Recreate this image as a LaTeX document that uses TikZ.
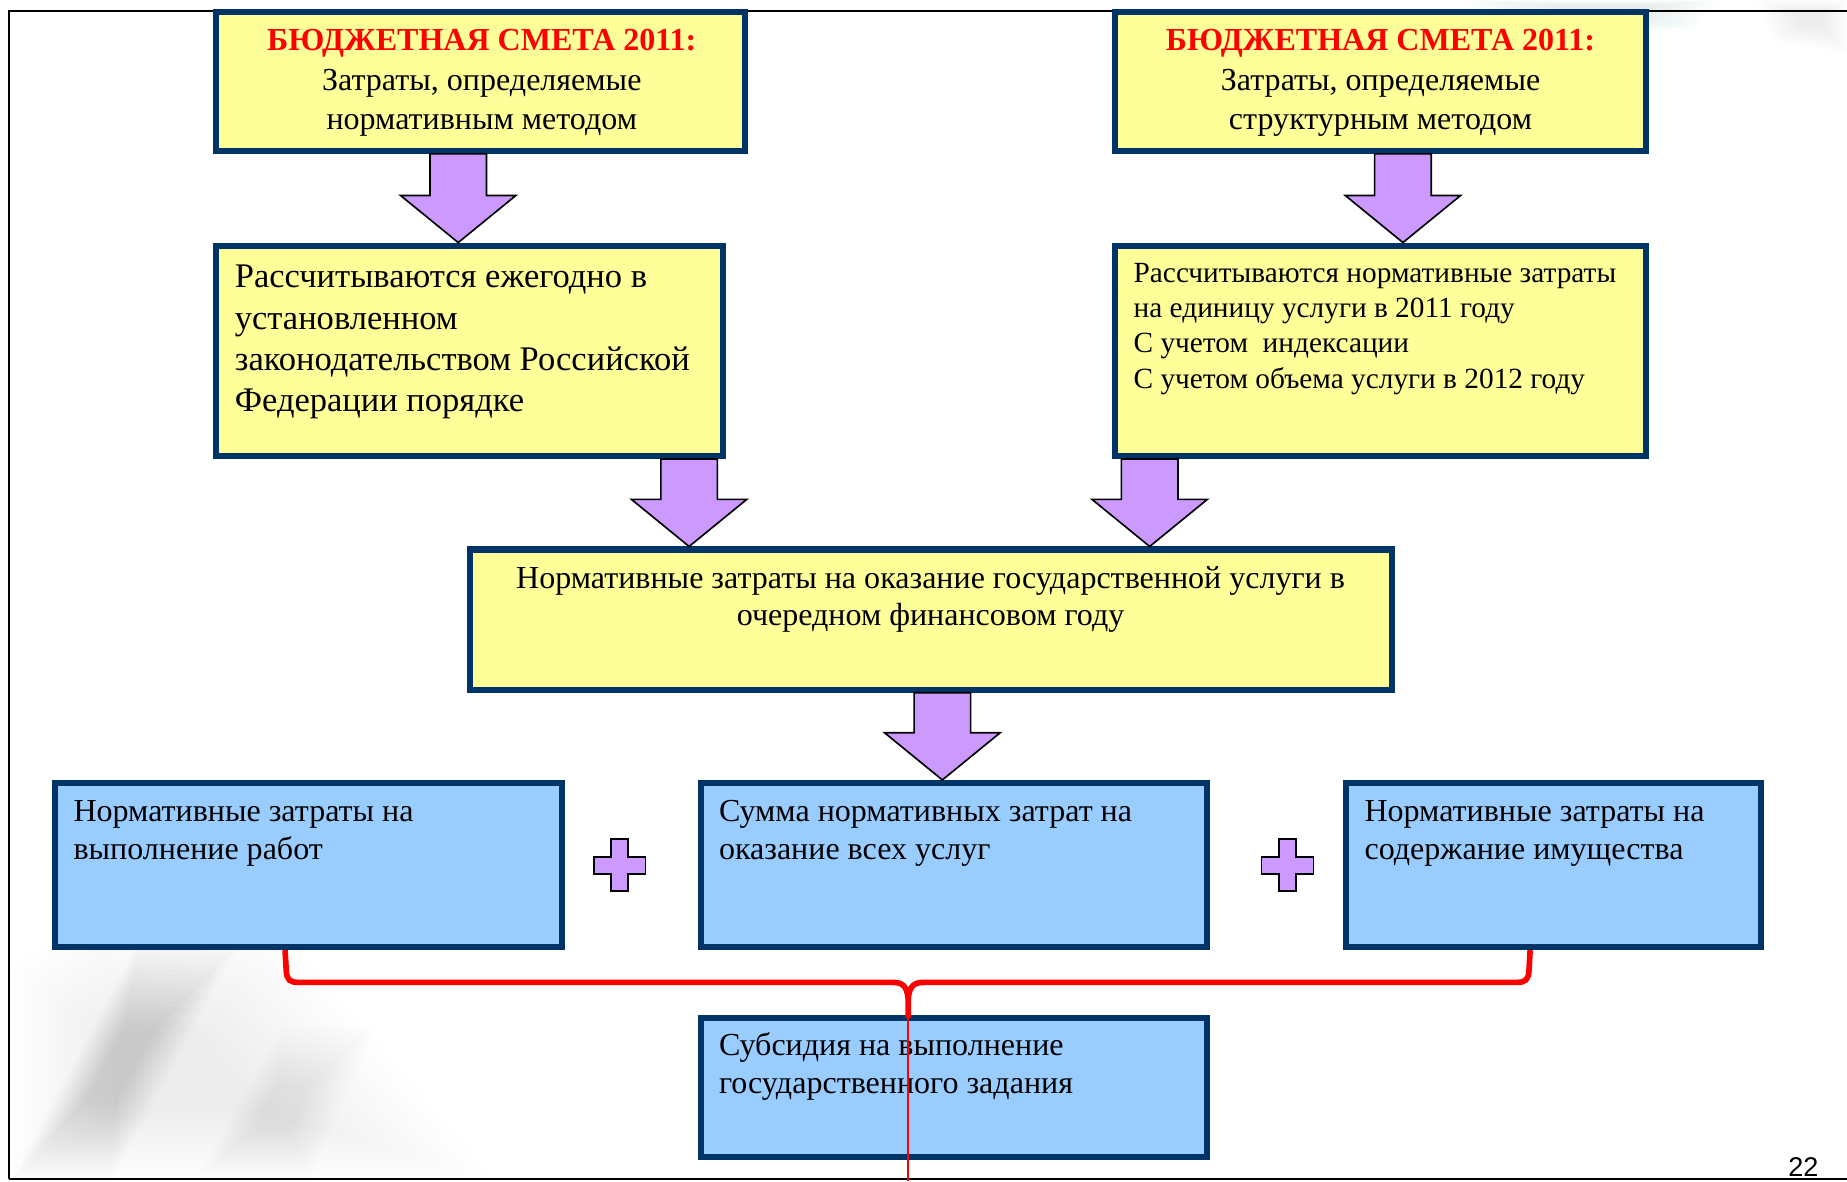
\documentclass[tikz,border=0pt]{standalone}
\usepackage{fontspec}
\setmainfont{Liberation Serif}
\newfontfamily\arialfont{Liberation Sans}
\usetikzlibrary{fit,calc}
\definecolor{navy}{HTML}{003366}
\definecolor{ylw}{HTML}{FFFF99}
\definecolor{lblue}{HTML}{99CCFF}
\definecolor{lilac}{HTML}{CC99FF}
\definecolor{bgblue}{HTML}{9FB6C8}
\definecolor{bgpink}{HTML}{E8C8C8}
\newcommand\blockarrow[2]{%
  \path[barrow] let \p1=(#1), \p2=(#2) in
    (\x1-12pt,\y1) -- (\x1+12pt,\y1) -- (\x1+12pt,\y2+20pt) -- (\x1+24.5pt,\y2+20pt)
    -- (\x1,\y2) -- (\x1-24.5pt,\y2+20pt) -- (\x1-12pt,\y2+20pt) -- cycle;}
\newcommand\plussign[1]{%
  \path[barrow] let \p1=(#1) in
    (\x1-3.6pt,\y1+11pt) -- (\x1+3.6pt,\y1+11pt) -- (\x1+3.6pt,\y1+3.6pt) -- (\x1+11pt,\y1+3.6pt)
    -- (\x1+11pt,\y1-3.6pt) -- (\x1+3.6pt,\y1-3.6pt) -- (\x1+3.6pt,\y1-11pt) -- (\x1-3.6pt,\y1-11pt)
    -- (\x1-3.6pt,\y1-3.6pt) -- (\x1-11pt,\y1-3.6pt) -- (\x1-11pt,\y1+3.6pt) -- (\x1-3.6pt,\y1+3.6pt) -- cycle;}
% soft shape: #1 colour, #2 opacity per layer, #3 centre, #4 polygon
\newcommand\softshape[4]{%
  \foreach \s in {1.0,0.96,...,0.3} {
    \fill[#1, opacity=#2, scale around={\s:#3}] #4;}}
\begin{document}
\begin{tikzpicture}[x=0.5pt,y=-0.5pt,
  ybox/.style={draw=navy, line width=2.6pt, fill=ylw, inner sep=0pt},
  bbox/.style={draw=navy, line width=2.6pt, fill=lblue, inner sep=0pt},
  barrow/.style={draw=black, line width=0.7pt, fill=lilac, line join=miter},
  txt/.style={inner sep=0pt, text=black},
  frameline/.style={draw=black, line width=0.8pt},
  bracket/.style={draw=red, line width=2.4pt},
]
\useasboundingbox (0,0) rectangle (1568,1003);
\fill[white] (0,0) rectangle (1568,1003);
% faint background decoration
\begin{scope}
\clip (8,0) rectangle (1568,1001);
\softshape{black}{0.005}{(140,920)}{(8,1001) -- (8,820) -- (70,780) -- (240,790) -- (420,1001) -- cycle}
\softshape{black}{0.006}{(100,905)}{(10,1001) -- (95,1001) -- (205,800) -- (120,795) -- cycle}
\softshape{black}{0.004}{(235,945)}{(165,1001) -- (265,1001) -- (320,870) -- (240,870) -- cycle}
\end{scope}
\softshape{bgblue}{0.012}{(1370,8)}{(1240,0) -- (1460,0) -- (1440,25) -- (1290,30) -- cycle}
\softshape{bgpink}{0.012}{(1540,15)}{(1490,0) -- (1568,0) -- (1568,45) -- (1505,35) -- cycle}
% frame
\draw[frameline] (1568,9) -- (8,9) -- (8,1001);
\draw[draw=black, line width=1.1pt] (8,1001) -- (1568,1001);
% boxes
\node[ybox, fit={(183.5,10)(632.5,128)}] (A) {};
\node[ybox, fit={(946.7,10)(1397,128)}] (B) {};
\node[ybox, fit={(183.5,208.5)(614,387)}] (C) {};
\node[ybox, fit={(946.7,208.5)(1397,387)}] (D) {};
\node[ybox, fit={(399,466.5)(1181.5,585.5)}] (E) {};
\node[bbox, fit={(47,664.7)(477,804)}] (F) {};
\node[bbox, fit={(595,664.7)(1025,804)}] (G) {};
\node[bbox, fit={(1143,664.7)(1495,804)}] (H) {};
\node[bbox, fit={(595,864)(1025,982.5)}] (I) {};
% arrow axes
\coordinate (x1) at (389,0);
\coordinate (x2) at (1191,0);
\coordinate (x3) at (585,0);
\coordinate (x4) at (976,0);
\coordinate (x5) at (800,0);
\blockarrow{x1 |- A.south}{x1 |- C.north}
\blockarrow{x2 |- B.south}{x2 |- D.north}
\blockarrow{x3 |- C.south}{x3 |- E.north}
\blockarrow{x4 |- D.south}{x4 |- E.north}
\blockarrow{x5 |- E.south}{x5 |- G.north}
\coordinate (p1) at (526,734.5);
\coordinate (p2) at (1093,734.5);
\plussign{p1}
\plussign{p2}
% texts
\node[txt, anchor=north, align=center, font=\fontsize{13.6}{16.75}\selectfont] (tA) at (409,14.5)
  {\rule{0pt}{14pt}\textcolor{red}{\textbf{БЮДЖЕТНАЯ СМЕТА 2011:}}\\Затраты, определяемые\\нормативным методом};
\node[txt, anchor=north, align=center, font=\fontsize{13.6}{16.75}\selectfont] (tB) at (1172,14.5)
  {\rule{0pt}{14pt}\textcolor{red}{\textbf{БЮДЖЕТНАЯ СМЕТА 2011:}}\\Затраты, определяемые\\структурным методом};
\node[txt, anchor=north west, align=left, font=\fontsize{14.65}{17.5}\selectfont] (tC) at (199,214)
  {\rule{0pt}{15pt}Рассчитываются ежегодно в\\установленном\\законодательством Российской\\Федерации порядке};
\node[txt, anchor=north west, align=left, font=\fontsize{12.45}{15}\selectfont] (tD) at (962,214)
  {\rule{0pt}{12.5pt}Рассчитываются нормативные затраты\\на единицу услуги в 2011 году\\С учетом\ \ индексации\\С учетом объема услуги в 2012 году};
\node[txt, anchor=north, align=center, font=\fontsize{13.6}{16}\selectfont] (tE) at (790,471)
  {\rule{0pt}{14pt}Нормативные затраты на оказание государственной услуги в\\очередном финансовом году};
\node[txt, anchor=north west, align=left, font=\fontsize{13.6}{16}\selectfont] (tF) at (62,669)
  {\rule{0pt}{14pt}Нормативные затраты на\\выполнение работ};
\node[txt, anchor=north west, align=left, font=\fontsize{13.6}{16}\selectfont] (tG) at (610,669)
  {\rule{0pt}{14pt}Сумма нормативных затрат на\\оказание всех услуг};
\node[txt, anchor=north west, align=left, font=\fontsize{13.6}{16}\selectfont] (tH) at (1158,669)
  {\rule{0pt}{14pt}Нормативные затраты на\\содержание имущества};
\node[txt, anchor=north west, align=left, font=\fontsize{13.6}{16}\selectfont] (tI) at (610,868)
  {\rule{0pt}{14pt}Субсидия на выполнение\\государственного задания};
\node[txt, anchor=base, font=\arialfont\fontsize{11.5}{13}\selectfont] (pg) at (1531,999) {22};
% red bracket
\coordinate (bl) at (242,0);
\coordinate (br) at (1299,0);
\coordinate (bm) at (771,848);
\draw[bracket] (bl |- F.south) -- (243,824) .. controls (243.5,832) and (246,834) .. (254,834)
  -- (758,834) .. controls (766,834) and (770,837) .. (bm) -- (771,864);
\draw[bracket] (br |- H.south) -- (1298,824) .. controls (1297.5,832) and (1295,834) .. (1287,834)
  -- (784,834) .. controls (776,834) and (772,837) .. (bm);
\draw[red, line width=1pt] (bm) -- (771,1003);
\end{tikzpicture}
\end{document}
